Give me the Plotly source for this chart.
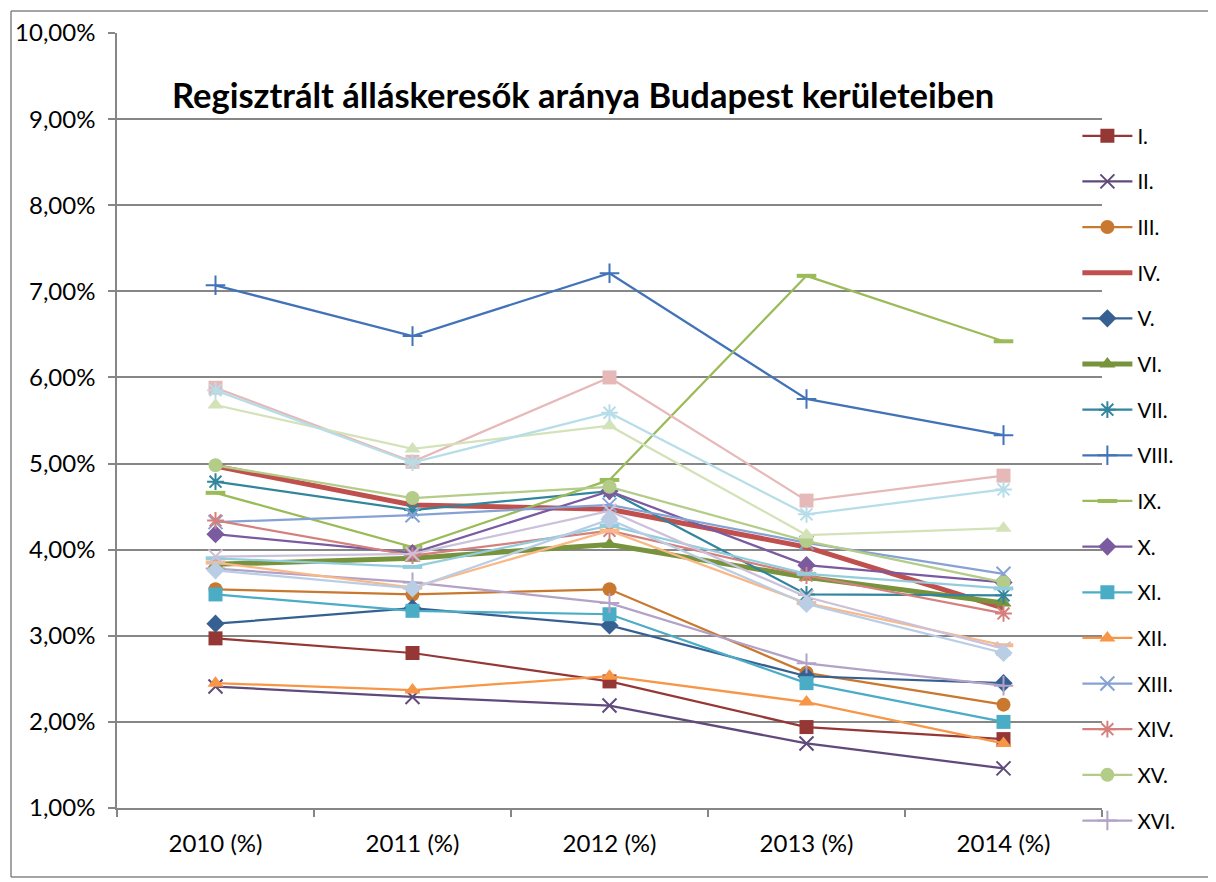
import plotly.graph_objects as go

years = ["2010 (%)", "2011 (%)", "2012 (%)", "2013 (%)", "2014 (%)"]
districts = ["I.", "II.", "III.", "IV.", "V.", "VI.", "VII.", "VIII.", "IX.", "X.", "XI.", "XII.",
             "XIII.", "XIV.", "XV.", "XVI.", "XVII.", "XVIII.", "XIX.", "XX.", "XXI.", "XXII.", "XXIII."]

d_I = [2.97, 2.80, 2.47, 1.94, 1.80]
d_II = [2.41, 2.29, 2.19, 1.75, 1.46]
d_III = [3.54, 3.48, 3.54, 2.57, 2.20]
d_IV = [4.97, 4.52, 4.47, 4.03, 3.32]
d_V = [3.14, 3.32, 3.12, 2.53, 2.45]
d_VI = [3.83, 3.90, 4.06, 3.68, 3.38]
d_VII = [4.79, 4.46, 4.68, 3.48, 3.47]
d_VIII = [7.07, 6.48, 7.21, 5.75, 5.33]
d_IX = [4.66, 4.03, 4.81, 7.18, 6.42]
d_X = [4.18, 3.96, 4.68, 3.82, 3.62]
d_XI = [3.48, 3.29, 3.25, 2.45, 2.00]
d_XII = [2.45, 2.37, 2.53, 2.23, 1.75]
d_XIII = [4.32, 4.40, 4.52, 4.08, 3.72]
d_XIV = [4.34, 3.93, 4.22, 3.70, 3.26]
d_XV = [4.98, 4.60, 4.73, 4.10, 3.62]
d_XVI = [3.78, 3.62, 3.38, 2.68, 2.42]
d_XVII = [3.90, 3.80, 4.28, 3.72, 3.55]
d_XVIII = [3.85, 3.56, 4.22, 3.38, 2.89]
d_XIX = [5.88, 5.02, 6.00, 4.57, 4.86]
d_XX = [5.68, 5.17, 5.44, 4.17, 4.25]
d_XXI = [3.92, 3.95, 4.45, 3.45, 2.85]
d_XXII = [5.85, 5.01, 5.59, 4.41, 4.70]
d_XXIII = [3.76, 3.55, 4.35, 3.37, 2.80]

values = [d_I, d_II, d_III, d_IV, d_V, d_VI, d_VII, d_VIII, d_IX, d_X, d_XI, d_XII,
          d_XIII, d_XIV, d_XV, d_XVI, d_XVII, d_XVIII, d_XIX, d_XX, d_XXI, d_XXII, d_XXIII]

colors = ["#953735", "#604A7B", "#C8782F", "#C0504D", "#376092", "#77933C", "#31859C", "#4272B8",
          "#9BBB59", "#7A5BA0", "#4BACC6", "#F79646", "#86A2D4", "#D4817E", "#B3CC88", "#B3A2C7",
          "#93CDDD", "#FAB886", "#E6B9B8", "#D3E2B8", "#CCC1DA", "#B7DEE8", "#B9CDE5"]
symbols = ["square", "x-thin", "circle", None, "diamond", "triangle-up", "asterisk", "cross-thin",
           "line-ew", "diamond", "square", "triangle-up", "x-thin", "asterisk", "circle", "cross-thin",
           "line-ew", "line-ew", "square", "triangle-up", "x-thin", "asterisk", "diamond"]
widths = [2.25, 2.25, 2.25, 5, 2.25, 5, 2.25, 2.25, 2.25, 2.25, 2.25, 2.25,
          2.25, 2.25, 2.25, 2.25, 2.25, 2.25, 2.25, 2.25, 2.25, 2.25, 2.25]

fig = go.Figure()
for i, (name, vals, col, sym, w) in enumerate(zip(districts, values, colors, symbols, widths)):
    line_sym = sym in ("x-thin", "asterisk", "cross-thin", "line-ew")
    if sym is None:
        mode = "lines"
        marker = dict()
    else:
        mode = "lines+markers"
        size = 14
        marker = dict(symbol=sym, size=size, color=col,
                      line=dict(color=col, width=2 if line_sym else 0))
        if sym == "line-ew":
            marker["line"]["width"] = 4
    fig.add_trace(go.Scatter(
        x=years, y=vals, name=name, mode=mode,
        line=dict(color=col, width=w), marker=marker,
        legendgroup=name, showlegend=i < 16,
    ))

# page has an 8px body margin; figure is positioned at (8, 8)
W, H = 1208, 874
L, T, R, B = 109, 25, 114, 74
PW, PH = W - L - R, H - T - B

bx0 = (3 - L) / PW
bx1 = 1.4
by0 = -(869 - T - PH) / PH
by1 = 1 + (T - 3) / PH
border = dict(color="#868686", width=1.5)

fig.update_layout(
    width=W, height=H,
    margin=dict(l=L, r=R, t=T, b=B, autoexpand=False),
    paper_bgcolor="white", plot_bgcolor="white",
    font=dict(family="Lato, Carlito, 'Open Sans', sans-serif", size=24, color="black"),
    separators=", ",
    showlegend=True,
    legend=dict(x=0.975, y=0.893, xanchor="left", yanchor="top",
                font=dict(size=20.5), tracegroupgap=16, bgcolor="rgba(0,0,0,0)",
                itemwidth=50),
    annotations=[dict(text="<b>Regisztrált álláskeresők aránya Budapest kerületeiben</b>",
                      x=(583 - 8 - L) / PW, y=1 - (94 - 8 - T) / PH, xref="paper", yref="paper",
                      showarrow=False, xanchor="center", yanchor="middle",
                      font=dict(size=34.5, family="Lato, Carlito, sans-serif", color="black"))],
    shapes=[
        dict(type="line", xref="paper", yref="paper", x0=bx0, x1=bx0, y0=by0, y1=by1,
             line=border, layer="below"),
        dict(type="line", xref="paper", yref="paper", x0=bx0, x1=bx1, y0=by1, y1=by1,
             line=border, layer="below"),
        dict(type="line", xref="paper", yref="paper", x0=bx0, x1=bx1, y0=by0, y1=by0,
             line=border, layer="below"),
    ],
)
fig.update_xaxes(type="category", range=[-0.5, 4.5], showline=True, linecolor="#868686",
                 linewidth=1.5, ticks="outside", tickson="boundaries", ticklen=7,
                 tickcolor="#868686", tickwidth=1.5, showgrid=False, zeroline=False,
                 tickfont=dict(size=24), ticklabelstandoff=13, automargin=False)
fig.update_yaxes(range=[1, 10], dtick=1, tick0=1, tickformat=".2f", ticksuffix="%",
                 showline=True, linecolor="#868686", linewidth=1.5, ticks="outside",
                 ticklen=7, tickcolor="#868686", tickwidth=1.5, showgrid=True,
                 gridcolor="#868686", gridwidth=1.5, zeroline=False, tickfont=dict(size=24),
                 ticklabelstandoff=8, automargin=False)

fig.write_html("out.html")
